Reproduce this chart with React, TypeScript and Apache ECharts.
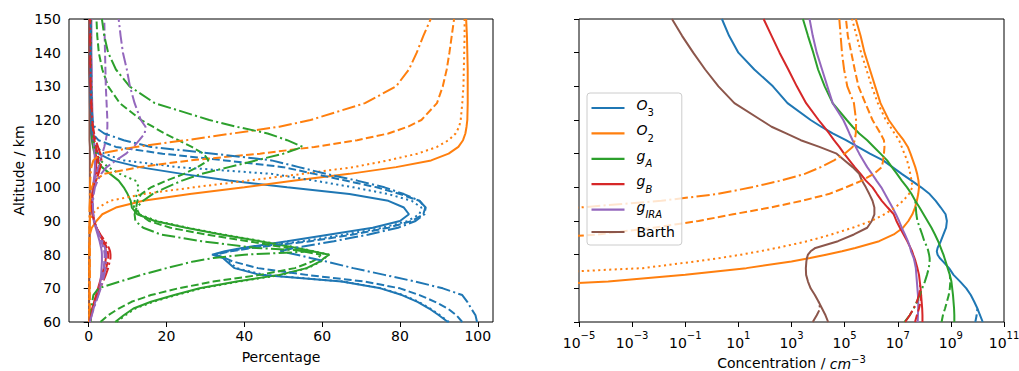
import React, { useEffect, useRef } from "react";
import * as echarts from "echarts";

// Altitude grid (km) shared by every profile
const ALT = [60, 62, 64, 66, 68, 70, 72, 74, 76, 78, 79, 80, 81, 82, 84, 86, 88, 90, 92, 94, 96, 98, 100, 102, 104, 106, 108, 110, 112, 114, 116, 118, 120, 125, 130, 135, 140, 145, 150];

// ---------- Left panel: percentage ----------
const O3_PCT_SOLID = [92.3, 90, 87.5, 84.5, 80.5, 75, 65, 44, 37.5, 35.5, 34.5, 31.7, 35, 39.4, 51, 62, 73, 80, 82.3, 81, 77, 67, 51, 36, 24, 13, 6, 2.5, 1.2, 0.8, 0.6, 0.5, 0.4, 0.3, 0.25, 0.2, 0.2, 0.2, 0.2];
const O3_PCT_DOTTED = [92.6, 90.3, 87.8, 84.8, 80.8, 75.3, 65.5, 45, 38, 36, 35, 32, 36, 41, 55, 66, 75.5, 82, 85, 85.5, 83, 77, 68, 58, 47, 23, 9, 4, 2, 1.2, 0.9, 0.7, 0.6, 0.5, 0.4, 0.4, 0.4, 0.4, 0.4];
const O3_PCT_DASHED = [96, 94.5, 92.3, 89, 85, 80, 71, 56, 43.5, 37, 35, 32.6, 36.5, 42, 57, 68, 77, 83, 86, 86.5, 85, 80, 74, 66, 58, 50, 35, 19, 7, 2.5, 1, 0.7, 0.6, 0.5, 0.4, 0.4, 0.4, 0.4, 0.4];
const O3_PCT_DASHDOT = [99.8, 99.4, 98.3, 97.3, 96, 91, 84, 76, 68, 61, 57, 53.5, 49, 53, 63, 72, 79.5, 84, 86.3, 86.6, 85, 81, 76, 69, 61, 54, 47, 32, 16, 9, 4, 1.5, 1, 0.7, 0.6, 0.5, 0.5, 0.5, 0.5];

const O2_PCT_SOLID = [0.1, 0.1, 0.1, 0.1, 0.1, 0.1, 0.1, 0.1, 0.1, 0.1, 0.1, 0.1, 0.1, 0.1, 0.2, 0.3, 0.8, 2, 3.5, 7, 14, 26, 40, 53, 67, 79, 88, 92.5, 95, 96.2, 96.8, 97.1, 97.3, 97.4, 97.4, 97.4, 97.3, 97.2, 97];
const O2_PCT_DOTTED = [0.1, 0.1, 0.1, 0.1, 0.1, 0.1, 0.1, 0.1, 0.1, 0.1, 0.1, 0.1, 0.1, 0.1, 0.2, 0.2, 0.2, 0.3, 0.9, 2.5, 5.5, 14, 27, 41, 55, 68, 77, 84.5, 89.5, 92.5, 94.3, 95.2, 95.6, 96, 96.3, 96.4, 96.5, 96.6, 96.6];
const O2_PCT_DASHED = [0.3, 0.3, 0.3, 0.3, 0.3, 0.3, 0.3, 0.3, 0.3, 0.3, 0.3, 0.3, 0.3, 0.3, 0.3, 0.3, 0.3, 0.3, 0.4, 0.4, 0.5, 0.6, 0.8, 1.5, 4, 13, 26, 44, 58, 69, 77, 82, 85.5, 89.5, 91, 92, 92.7, 93.3, 93.9];
const O2_PCT_DASHDOT = [0.2, 0.2, 0.2, 0.2, 0.2, 0.2, 0.2, 0.2, 0.2, 0.2, 0.2, 0.2, 0.2, 0.2, 0.2, 0.2, 0.2, 0.2, 0.2, 0.2, 0.3, 0.3, 0.3, 0.4, 0.5, 0.7, 1.2, 3, 12, 25, 37, 49, 57, 71, 79, 82.3, 84.3, 86, 87.9];

const GA_PCT_SOLID = [6.8, 9, 11.5, 16, 22, 28.5, 38, 49, 56, 59.5, 60.5, 61.8, 57.5, 53.5, 44, 34, 25, 17, 12.5, 11.1, 10.8, 10, 9, 7.7, 5.5, 3.4, 2.2, 1.5, 1.1, 0.9, 0.8, 0.7, 0.6, 0.5, 0.5, 0.4, 0.4, 0.4, 0.4];
const GA_PCT_DOTTED = [7.2, 9.4, 12, 16.5, 22.5, 29, 38.5, 49.5, 56.3, 59.7, 60.7, 61.8, 57.8, 54, 44.5, 34.5, 25.5, 17.5, 13, 11.6, 11.8, 12.4, 12.9, 12, 8, 5, 3, 2, 1.5, 1.2, 1, 0.9, 0.8, 0.7, 0.7, 0.6, 0.6, 0.6, 0.6];
const GA_PCT_DASHED = [3, 5, 7.7, 11, 16, 23, 32, 44, 53, 57.5, 59, 59.6, 55, 51, 41, 30, 21, 15.5, 13, 12.2, 12.5, 13.5, 16, 20, 24.5, 28, 30.8, 29.5, 26.5, 23, 19.5, 16.5, 13.5, 8, 5, 3.5, 2.6, 2.2, 2];
const GA_PCT_DASHDOT = [0.5, 0.6, 0.7, 0.9, 1.2, 2.5, 8, 13.5, 20, 27, 32, 40, 58, 43, 29, 18.5, 14, 12, 11.8, 12.3, 14, 16.4, 20, 24, 29, 36, 43, 50, 55, 51, 46, 38, 31, 17, 10.5, 7, 5, 4, 3.4];

const GB_PCT_SOLID = [0.2, 0.5, 0.9, 1.4, 1.9, 2.4, 2.9, 3.4, 3.9, 4.3, 4.4, 4.4, 4.4, 4.3, 3.7, 2.8, 2, 1.4, 1.1, 0.9, 0.8, 0.9, 1.1, 1.4, 1.7, 1.9, 2, 1.8, 1.5, 1.2, 1, 0.8, 0.7, 0.5, 0.4, 0.35, 0.3, 0.3, 0.3];
const GB_PCT_DASHED = [0.3, 0.6, 1, 1.5, 2.1, 2.7, 3.3, 3.9, 4.5, 4.9, 5, 5, 4.9, 4.7, 3.9, 2.9, 2, 1.4, 1, 0.8, 0.8, 1, 1.3, 1.7, 2.1, 2.4, 2.5, 2.3, 1.9, 1.5, 1.2, 1, 0.8, 0.6, 0.5, 0.4, 0.4, 0.35, 0.35];
const GB_PCT_DASHDOT = [0.3, 0.6, 1, 1.6, 2.3, 3, 3.7, 4.4, 5, 5.4, 5.6, 5.6, 5.5, 5.2, 4.2, 3, 2, 1.4, 1, 0.8, 0.8, 1, 1.4, 1.9, 2.5, 3, 3.3, 3, 2.4, 1.8, 1.4, 1.1, 0.9, 0.7, 0.5, 0.45, 0.4, 0.4, 0.4];

const GIRA_PCT_SOLID = [0.3, 0.7, 1.2, 1.7, 2.2, 2.7, 3, 3.2, 3.3, 3.4, 3.4, 3.4, 3.35, 3.2, 2.8, 2.3, 1.8, 1.3, 1.1, 1, 0.9, 1, 1.1, 1.3, 1.5, 1.6, 1.6, 1.5, 1.4, 1.3, 1.2, 1.1, 1, 0.9, 0.8, 0.8, 0.7, 0.7, 0.7];
const GIRA_PCT_DASHED = [0.3, 0.7, 1.2, 1.8, 2.4, 2.9, 3.3, 3.6, 3.9, 4, 4.1, 4.1, 4, 3.8, 3.2, 2.5, 1.9, 1.4, 1.1, 1, 1, 1.1, 1.3, 1.6, 2, 2.5, 3, 3.5, 4, 4.4, 4.7, 4.8, 4.8, 4.6, 4.4, 4.3, 4.2, 4.1, 4];
const GIRA_PCT_DASHDOT = [0.3, 0.8, 1.3, 1.9, 2.5, 3.1, 3.6, 4, 4.3, 4.5, 4.5, 4.5, 4.4, 4.2, 3.5, 2.7, 2, 1.5, 1.2, 1.1, 1.1, 1.3, 1.6, 2.3, 3.2, 4.6, 7, 9.6, 11.5, 13, 14.4, 14.6, 13.4, 11.8, 10.6, 9.8, 8.8, 8.2, 7.7];

const BARTH_PCT_SOLID = [0.1, 0.1, 0.1, 0.1, 0.1, 0.1, 0.15, 0.15, 0.2, 0.2, 0.2, 0.2, 0.2, 0.2, 0.2, 0.2, 0.2, 0.3, 0.3, 0.3, 0.3, 0.3, 0.3, 0.3, 0.3, 0.3, 0.3, 0.3, 0.3, 0.2, 0.2, 0.2, 0.2, 0.2, 0.2, 0.1, 0.1, 0.1, 0.1];

// ---------- Right panel: concentration, stored as log10(cm^-3) ----------
const N = null;
const O3_LOG_SOLID = [10.2, 10.1, 10.0, 9.88, 9.75, 9.58, 9.35, 9.1, 8.93, 8.7, 8.58, 8.5, 8.47, 8.5, 8.62, 8.72, 8.82, 8.85, 8.8, 8.62, 8.43, 8.2, 7.88, 7.52, 7.15, 6.8, 6.45, 5.95, 5.5, 5.05, 4.55, 4.12, 3.72, 2.85, 2.3, 1.6, 1.0, 0.65, 0.38];
const O3_LOG_DASHED = [9.92, 9.97, 10.0, N, N, N, N, N, N, N, N, N, N, N, N, N, N, N, N, N, N, N, N, N, N, N, N, N, N, N, N, N, N, N, N, N, N, N, N];

const O2_LOG_SOLID = [N, N, N, N, N, -9, -3.9, -1.0, 1.3, 3.0, 3.7, 4.3, 4.9, 5.4, 6.3, 6.85, 7.2, 7.4, 7.55, 7.65, 7.72, 7.77, 7.8, 7.78, 7.73, 7.66, 7.57, 7.48, 7.38, 7.22, 7.02, 6.84, 6.66, 6.35, 6.15, 5.95, 5.75, 5.6, 5.42];
const O2_LOG_DOTTED = [N, N, N, N, N, N, N, -8, -2.6, -0.6, 0.3, 1.1, 1.8, 2.45, 3.6, 4.5, 5.3, 6.0, 6.5, 6.9, 7.2, 7.42, 7.55, 7.52, 7.47, 7.42, 7.35, 7.25, 7.15, 7.05, 6.88, 6.72, 6.55, 6.25, 6.02, 5.82, 5.62, 5.45, 5.28];
const O2_LOG_DASHED = [N, N, N, N, N, N, N, N, N, N, N, N, N, N, -8, -4.3, -2.2, -0.5, 0.8, 2.2, 3.4, 4.4, 5.05, 5.65, 6.1, 6.4, 6.45, 6.48, 6.5, 6.48, 6.35, 6.2, 6.05, 5.78, 5.52, 5.38, 5.25, 5.12, 5.05];
const O2_LOG_DASHDOT = [N, N, N, N, N, N, N, N, N, N, N, N, N, N, N, N, N, N, -8, -5, -1.9, 0.2, 1.5, 2.6, 3.5, 4.1, 4.6, 5.0, 5.3, 5.38, 5.42, 5.43, 5.43, 5.35, 5.1, 4.98, 4.9, 4.85, 4.8];

const GA_LOG_SOLID = [9.13, 9.13, 9.12, 9.1, 9.08, 9.05, 9.02, 8.96, 8.88, 8.8, 8.76, 8.72, 8.67, 8.62, 8.52, 8.4, 8.27, 8.12, 7.97, 7.82, 7.66, 7.52, 7.35, 7.15, 6.97, 6.78, 6.6, 6.35, 6.1, 5.85, 5.55, 5.3, 5.08, 4.55, 4.25, 4.0, 3.82, 3.62, 3.43];
const GA_LOG_DASHED = [8.65, 8.7, 8.78, 8.85, 8.92, 8.96, 8.98, 8.96, N, N, N, N, N, N, N, N, N, N, N, N, N, N, N, N, N, N, N, N, N, N, N, N, N, N, N, N, N, N, N];
const GA_LOG_DASHDOT = [7.25, 7.45, 7.6, 7.72, 7.82, 7.92, 8.02, 8.1, 8.17, 8.2, 8.2, 8.18, 8.15, 8.12, 8.0, 7.92, 7.83, 7.74, 7.7, 7.68, 7.66, N, N, N, N, N, N, N, N, N, N, N, N, N, N, N, N, N, N];

const GB_LOG_SOLID = [7.93, 7.93, 7.92, 7.9, 7.88, 7.86, 7.83, 7.8, 7.74, 7.67, 7.63, 7.58, 7.54, 7.48, 7.36, 7.22, 7.08, 6.95, 6.85, 6.62, 6.4, 6.22, 6.05, 5.8, 5.6, 5.38, 5.18, 4.98, 4.8, 4.6, 4.42, 4.22, 4.02, 3.55, 3.2, 2.88, 2.55, 2.25, 1.95];
const GB_LOG_DASHED = [7.65, 7.72, 7.8, 7.86, 7.88, N, N, N, N, N, N, N, N, N, N, N, N, N, N, N, N, N, N, N, N, N, N, N, N, N, N, N, N, N, N, N, N, N, N];
const GB_LOG_DASHDOT = [7.28, 7.45, 7.6, 7.72, 7.8, 7.85, 7.83, N, N, N, N, N, N, N, N, N, N, N, N, N, N, N, N, N, N, N, N, N, N, N, N, N, N, N, N, N, N, N, N];

const GIRA_LOG_SOLID = [7.75, 7.76, 7.77, 7.77, 7.76, 7.74, 7.72, 7.7, 7.68, 7.63, 7.6, 7.55, 7.5, 7.47, 7.38, 7.27, 7.15, 7.05, 6.93, 6.8, 6.66, 6.52, 6.38, 6.2, 6.03, 5.85, 5.7, 5.55, 5.42, 5.3, 5.18, 5.07, 4.95, 4.55, 4.35, 4.15, 3.95, 3.8, 3.68];

const BARTH_LOG_SOLID = [4.38, 4.28, 4.15, 4.02, 3.88, 3.72, 3.62, 3.55, 3.54, 3.56, 3.58, 3.62, 3.72, 3.9, 4.75, 5.35, 5.85, 6.02, 6.12, 6.12, 6.05, 5.93, 5.8, 5.65, 5.55, 5.3, 5.0, 4.7, 4.05, 3.35, 2.8, 2.25, 1.85, 0.85, 0.25, -0.25, -0.7, -1.12, -1.5];
const BARTH_LOG_DASHDOT = [3.8, 3.95, 4.08, 4.02, N, N, N, N, N, N, N, N, N, N, N, N, N, N, N, N, N, N, N, N, N, N, N, N, N, N, N, N, N, N, N, N, N, N, N];

// ---------- ticks / labels ----------
const PCT_TICKS = [0, 20, 40, 60, 80, 100];
const CONC_TICKS = [1e-5, 1e-3, 1e-1, 1e1, 1e3, 1e5, 1e7, 1e9, 1e11];
const LEGEND_NAMES = ["O3", "O2", "gA", "gB", "gIRA", "Barth"];
const LEGEND_LABELS: Record<string, string> = {
  O3: "{it|O}{sub|3}",
  O2: "{it|O}{sub|2}",
  gA: "{it|g}{subi|A}",
  gB: "{it|g}{subi|B}",
  gIRA: "{it|g}{subi|IRA}",
  Barth: "{rm|Barth}",
};

const COLOR: Record<string, string> = {
  O3: "#1f77b4",
  O2: "#ff7f0e",
  gA: "#2ca02c",
  gB: "#d62728",
  gIRA: "#9467bd",
  Barth: "#8c564b",
};
const DASH: Record<string, any> = {
  solid: "solid",
  dotted: [2.1, 3.4],
  dashed: [7.7, 3.3],
  dashdot: [13.3, 3.3, 2.1, 3.3],
};

const LEFT: [string, string, number[]][] = [
  ["O3", "solid", O3_PCT_SOLID],
  ["O2", "solid", O2_PCT_SOLID],
  ["gA", "solid", GA_PCT_SOLID],
  ["gB", "solid", GB_PCT_SOLID],
  ["gIRA", "solid", GIRA_PCT_SOLID],
  ["Barth", "solid", BARTH_PCT_SOLID],
  ["O3", "dotted", O3_PCT_DOTTED],
  ["O2", "dotted", O2_PCT_DOTTED],
  ["gA", "dotted", GA_PCT_DOTTED],
  ["O3", "dashed", O3_PCT_DASHED],
  ["O2", "dashed", O2_PCT_DASHED],
  ["gA", "dashed", GA_PCT_DASHED],
  ["gB", "dashed", GB_PCT_DASHED],
  ["gIRA", "dashed", GIRA_PCT_DASHED],
  ["O3", "dashdot", O3_PCT_DASHDOT],
  ["O2", "dashdot", O2_PCT_DASHDOT],
  ["gA", "dashdot", GA_PCT_DASHDOT],
  ["gB", "dashdot", GB_PCT_DASHDOT],
  ["gIRA", "dashdot", GIRA_PCT_DASHDOT],
];

const RIGHT: [string, string, (number | null)[]][] = [
  ["O3", "solid", O3_LOG_SOLID],
  ["O2", "solid", O2_LOG_SOLID],
  ["gA", "solid", GA_LOG_SOLID],
  ["gB", "solid", GB_LOG_SOLID],
  ["gIRA", "solid", GIRA_LOG_SOLID],
  ["Barth", "solid", BARTH_LOG_SOLID],
  ["O2", "dotted", O2_LOG_DOTTED],
  ["O3", "dashed", O3_LOG_DASHED],
  ["O2", "dashed", O2_LOG_DASHED],
  ["gA", "dashed", GA_LOG_DASHED],
  ["gB", "dashed", GB_LOG_DASHED],
  ["O2", "dashdot", O2_LOG_DASHDOT],
  ["gA", "dashdot", GA_LOG_DASHDOT],
  ["gB", "dashdot", GB_LOG_DASHDOT],
  ["Barth", "dashdot", BARTH_LOG_DASHDOT],
];

const FONT = "DejaVu Sans";

function lineSeries(name: string, key: string, style: string, data: any[], idx: number) {
  return {
    name,
    type: "line",
    xAxisIndex: idx,
    yAxisIndex: idx,
    data,
    symbol: "none",
    showSymbol: false,
    clip: true,
    silent: true,
    lineStyle: { color: COLOR[key], width: 2, type: DASH[style], cap: "butt" },
    itemStyle: { color: COLOR[key] },
    emphasis: { disabled: true },
  };
}

export default function App() {
  const ref = useRef<HTMLDivElement>(null);
  useEffect(() => {
    if (!ref.current) return;
    const chart = echarts.init(ref.current, null, { renderer: "svg" });

    const series: any[] = [];
    LEFT.forEach(([key, style, vals]) => {
      const data = ALT.map((a, i) => [vals[i], a]);
      series.push(lineSeries(`L-${key}-${style}`, key, style, data, 0));
    });
    RIGHT.forEach(([key, style, vals]) => {
      const data = ALT.map((a, i) => (vals[i] == null ? null : [Math.pow(10, vals[i] as number), a])).filter(Boolean);
      const name = style === "solid" ? key : `R-${key}-${style}`;
      series.push(lineSeries(name, key, style, data, 1));
    });

    const tickLabel = { color: "#000", fontSize: 14, fontFamily: FONT };
    const axisName = { color: "#000", fontSize: 14, fontFamily: FONT };

    chart.setOption({
      animation: false,
      backgroundColor: "#fff",
      grid: [
        { left: 69, top: 19, width: 424, height: 303, show: true, borderColor: "#000", borderWidth: 1, backgroundColor: "transparent", containLabel: false, outerBoundsMode: "none" },
        { left: 579, top: 19, width: 425, height: 303, show: true, borderColor: "#000", borderWidth: 1, backgroundColor: "transparent", containLabel: false, outerBoundsMode: "none" },
      ],
      legend: {
        data: LEGEND_NAMES.map((n) => ({ name: n, icon: "rect", itemStyle: { color: COLOR[n] } })),
        orient: "vertical",
        left: 587,
        top: 93,
        itemWidth: 33,
        itemHeight: 2.2,
        itemGap: 5.4,
        padding: [5, 7, 6, 4.5],
        backgroundColor: "rgba(255,255,255,0.8)",
        borderColor: "#cccccc",
        borderWidth: 1,
        borderRadius: 3,
        selectedMode: false,
        formatter: (n: string) => LEGEND_LABELS[n],
        textStyle: {
          color: "#000",
          fontFamily: FONT,
          fontSize: 14,
          padding: [0, 0, 0, 7],
          rich: {
            it: { fontFamily: FONT, fontSize: 14, fontStyle: "italic", lineHeight: 20, verticalAlign: "top" },
            rm: { fontFamily: FONT, fontSize: 14, lineHeight: 20 },
            sub: { fontFamily: FONT, fontSize: 10, lineHeight: 10, verticalAlign: "bottom" },
            subi: { fontFamily: FONT, fontSize: 10, fontStyle: "italic", lineHeight: 10, verticalAlign: "bottom" },
          },
        },
      },
      xAxis: [
        {
          type: "value",
          gridIndex: 0,
          min: -5.06,
          max: 103.9,
          axisLine: { show: false },
          axisTick: { show: true, length: 5, lineStyle: { color: "#000", width: 1 }, customValues: PCT_TICKS },
          axisLabel: { ...tickLabel, margin: 7, customValues: PCT_TICKS },
          splitLine: { show: false },
          name: "Percentage",
          nameLocation: "middle",
          nameGap: 28,
          nameTextStyle: axisName,
        },
        {
          type: "log",
          logBase: 10,
          gridIndex: 1,
          min: 1e-5,
          max: 1e11,
          axisLine: { show: false },
          axisTick: { show: true, length: 5, lineStyle: { color: "#000", width: 1 }, customValues: CONC_TICKS },
          minorTick: { show: false },
          axisLabel: {
            ...tickLabel,
            margin: 8,
            customValues: CONC_TICKS,
            formatter: (v: number) => {
              const e = Math.round(Math.log10(v));
              return `{b|10}{sup|${e < 0 ? "\u2212" + -e : e}}`;
            },
            rich: {
              b: { fontFamily: FONT, fontSize: 14, lineHeight: 20, verticalAlign: "bottom", color: "#000" },
              sup: { fontFamily: FONT, fontSize: 10, lineHeight: 10, verticalAlign: "top", color: "#000" },
            },
          },
          splitLine: { show: false },
          name: "Concentration / {i|cm}{sup|\u22123}",
          nameLocation: "middle",
          nameGap: 32,
          nameTextStyle: {
            ...axisName,
            lineHeight: 16,
            rich: {
              i: { fontFamily: FONT, fontSize: 14, fontStyle: "italic", lineHeight: 16, verticalAlign: "bottom", color: "#000" },
              sup: { fontFamily: FONT, fontSize: 10, lineHeight: 10, verticalAlign: "top", color: "#000" },
            },
          },
        },
      ],
      yAxis: [
        {
          type: "value",
          gridIndex: 0,
          min: 60,
          max: 150,
          interval: 10,
          axisLine: { show: false },
          axisTick: { show: true, length: 5, lineStyle: { color: "#000", width: 1 } },
          axisLabel: { ...tickLabel, margin: 8 },
          splitLine: { show: false },
          name: "Altitude / km",
          nameLocation: "middle",
          nameRotate: 90,
          nameGap: 43,
          nameTextStyle: axisName,
        },
        {
          type: "value",
          gridIndex: 1,
          min: 60,
          max: 150,
          interval: 10,
          axisLine: { show: false },
          axisTick: { show: true, length: 5, lineStyle: { color: "#000", width: 1 } },
          axisLabel: { show: false },
          splitLine: { show: false },
        },
      ],
      series,
    });
    return () => chart.dispose();
  }, []);

  return <div ref={ref} style={{ position: "absolute", left: 0, top: 0, width: 1019, height: 371 }} />;
}
